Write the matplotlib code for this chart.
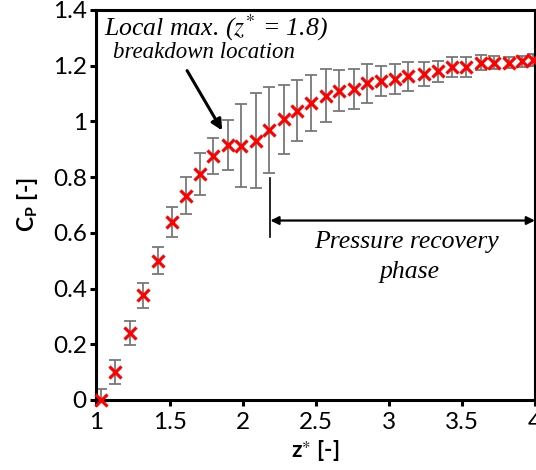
import matplotlib
matplotlib.use('Agg')
import matplotlib.pyplot as plt

# axial position z* and pressure coefficient Cp with its spread
z_star = [1.03, 1.13, 1.23, 1.32, 1.42, 1.52, 1.61, 1.71, 1.80, 1.90, 1.99,
          2.09, 2.18, 2.28, 2.37, 2.47, 2.57, 2.66, 2.76, 2.85, 2.95, 3.04,
          3.13, 3.24, 3.34, 3.43, 3.53, 3.63, 3.72, 3.82, 3.91, 3.99]
cp = [0.0, 0.10, 0.24, 0.375, 0.50, 0.64, 0.733, 0.81, 0.875, 0.915, 0.913,
      0.931, 0.969, 1.007, 1.038, 1.066, 1.092, 1.11, 1.116, 1.137, 1.146, 1.152,
      1.162, 1.17, 1.179, 1.196, 1.196, 1.211, 1.211, 1.211, 1.215, 1.22]
cp_err = [0.04, 0.043, 0.044, 0.044, 0.049, 0.054, 0.066, 0.076, 0.065, 0.088, 0.149,
          0.172, 0.155, 0.123, 0.11, 0.10, 0.094, 0.074, 0.072, 0.07, 0.054, 0.054,
          0.052, 0.044, 0.039, 0.036, 0.036, 0.026, 0.025, 0.02, 0.02, 0.02]

x_ticks = [1, 1.5, 2, 2.5, 3, 3.5, 4]
x_tick_labels = ['1', '1.5', '2', '2.5', '3', '3.5', '4']
y_ticks = [0, 0.2, 0.4, 0.6, 0.8, 1.0, 1.2, 1.4]
y_tick_labels = ['0', '0.2', '0.4', '0.6', '0.8', '1', '1.2', '1.4']

recovery_start = 2.19

plt.rcParams['font.family'] = ['Lato', 'DejaVu Sans']
plt.rcParams['mathtext.fontset'] = 'stix'

fig = plt.figure(figsize=(5.36, 4.70), dpi=100)
ax = fig.add_axes([0.18, 0.149, 0.818, 0.83])

ax.errorbar(z_star, cp, yerr=cp_err, fmt='none', ecolor='#787878',
            elinewidth=1.3, capsize=4, capthick=1.3, zorder=2)
ax.plot(z_star, cp, linestyle='none', marker='x', color='#ff0000',
        markersize=8.5, markeredgewidth=2.3, zorder=5, clip_on=False)

ax.set_xlim(1, 4)
ax.set_ylim(0, 1.4)
ax.set_xticks(x_ticks)
ax.set_xticklabels(x_tick_labels)
ax.set_yticks(y_ticks)
ax.set_yticklabels(y_tick_labels)
ax.tick_params(axis='both', direction='out', length=4, width=2.2, labelsize=17.5, pad=3)
ax.tick_params(axis='x', pad=5)

for s in ax.spines.values():
    s.set_linewidth(2.2)

ax.set_xlabel(r'z$^{\ast}$ [-]', fontsize=16.5, fontweight='bold', labelpad=3)
ax.set_ylabel(r'C$_\mathregular{P}$ [-]', fontsize=16.5, fontweight='bold', labelpad=9)

serif = ['Liberation Serif', 'DejaVu Serif']

# breakdown annotation
ax.text(1.05, 1.336, r'Local max. ($z^{*}$ = 1.8)', family=serif, style='italic',
        fontsize=18.5, ha='left', va='center')
ax.text(1.11, 1.246, 'breakdown location', family=serif, style='italic',
        fontsize=16.5, ha='left', va='center')
ax.annotate('', xy=(1.86, 0.967), xytext=(1.62, 1.182),
            arrowprops=dict(arrowstyle='-|>', color='black', lw=2.2,
                            mutation_scale=16, shrinkA=0, shrinkB=0))

# pressure recovery phase marker
ax.plot([recovery_start, recovery_start], [0.584, 0.798], color='black', lw=1.2)
ax.annotate('', xy=(4.0, 0.644), xytext=(recovery_start, 0.644),
            arrowprops=dict(arrowstyle='<|-|>', color='black', lw=1.6,
                            mutation_scale=12, shrinkA=0, shrinkB=0))
ax.text(3.12, 0.566, 'Pressure recovery', family=serif, style='italic',
        fontsize=18.5, ha='center', va='center')
ax.text(3.14, 0.458, 'phase', family=serif, style='italic',
        fontsize=18.5, ha='center', va='center')

fig.savefig('out.png', dpi=100)
